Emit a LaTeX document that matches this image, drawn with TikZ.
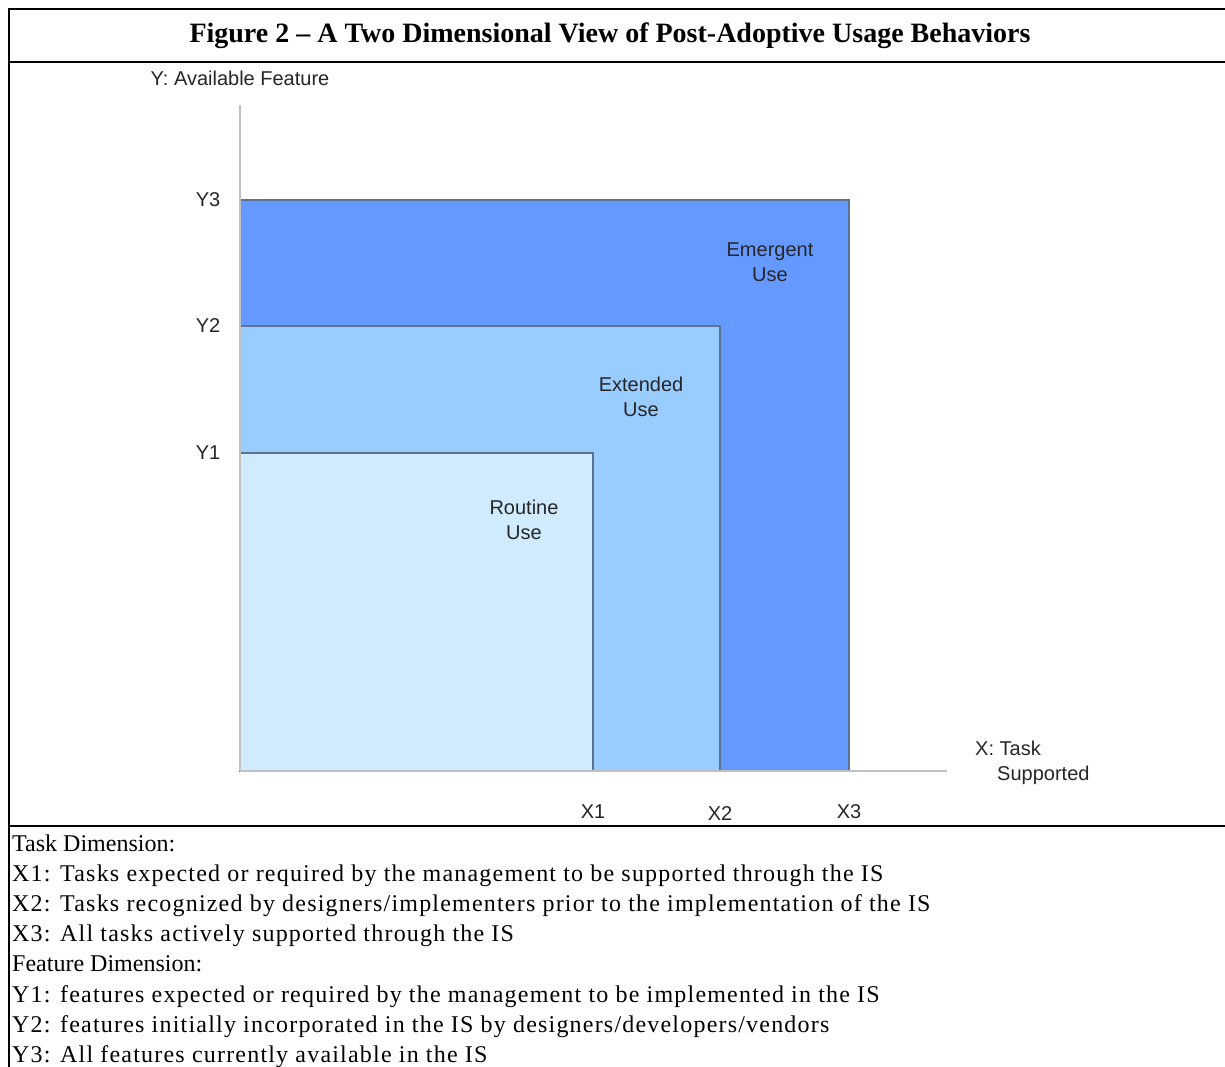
\documentclass[tikz,border=0pt]{standalone}
\usepackage{fontspec}
\setmainfont{Liberation Serif}
\newfontfamily\arialfont{Liberation Sans}
\newfontfamily\itemfont[LetterSpace=5]{Liberation Serif}
\usetikzlibrary{positioning}

\definecolor{emergentblue}{HTML}{6699FF}
\definecolor{extendedblue}{HTML}{99CCFF}
\definecolor{routineblue}{HTML}{CFEBFD}
\definecolor{edgegrey}{HTML}{5A7390}
\definecolor{axisgrey}{HTML}{C0C0C0}

\tikzset{
  frameline/.style={line width=2.6pt},
  usebox/.style={draw=edgegrey, line width=1.1pt},
  axisline/.style={draw=axisgrey, line width=1.4pt},
  sflabel/.style={font=\arialfont\fontsize{20}{25}\selectfont, text=black!85, align=center, inner sep=0pt},
  notetext/.style={font=\fontsize{24}{28}\selectfont, anchor=base west, inner sep=0pt},
  itemtext/.style={notetext, font=\itemfont\fontsize{24}{28}\selectfont}
}

\begin{document}
\begin{tikzpicture}[x=1pt,y=-1pt]
  \useasboundingbox (0,0) rectangle (1225,1067);
  \fill[white] (0,0) rectangle (1225,1067);

  % frame and title
  \draw[frameline] (1225,9) -- (9,9) -- (9,1067);
  \draw[frameline] (9,62) -- (1225,62);
  \draw[frameline] (9,826) -- (1225,826);
  \node[font=\bfseries\fontsize{28}{32}\selectfont] (title) at (610,36)
    {Figure 2 -- A Two Dimensional View of Post-Adoptive Usage Behaviors};

  % nested usage areas
  \draw[usebox, fill=emergentblue] (240,200) rectangle (849,771);
  \draw[usebox, fill=extendedblue] (240,326) rectangle (720,771);
  \draw[usebox, fill=routineblue] (240,453) rectangle (593,771);

  % axes
  \coordinate (origin) at (240,771);
  \coordinate (ytop) at (240,105);
  \coordinate (xend) at (947,771);
  \draw[axisline] (origin) -- (ytop);
  \draw[axisline] (origin) -- (xend);

  \node[sflabel] (yaxis) at (240,78) {Y: Available Feature};
  \node[sflabel, align=left, anchor=north west] (xaxis) at (975,741)
    {X: Task\\\hspace*{22pt}Supported};

  \node[sflabel] (y3) at (208,200) {Y3};
  \node[sflabel] (y2) at (208,326) {Y2};
  \node[sflabel] (y1) at (208,453) {Y1};
  \node[sflabel] (x1) at (593,812) {X1};
  \node[sflabel] (x2) at (720,814) {X2};
  \node[sflabel] (x3) at (849,812) {X3};

  \node[sflabel] (emergent) at (770,262) {Emergent\\Use};
  \node[sflabel] (extended) at (641,397) {Extended\\Use};
  \node[sflabel] (routine) at (524,520) {Routine\\Use};

  % legend of the dimensions
  \node[notetext] (taskdim) at (12,851) {Task Dimension:};
  \node[itemtext] (xone) at (12,881.2) {X1: Tasks expected or required by the management to be supported through the IS};
  \node[itemtext] (xtwo) at (12,911.4) {X2: Tasks recognized by designers/implementers prior to the implementation of the IS};
  \node[itemtext] (xthree) at (12,941.6) {X3: All tasks actively supported through the IS};
  \node[notetext] (featdim) at (12,971.8) {Feature Dimension:};
  \node[itemtext] (yone) at (12,1002) {Y1: features expected or required by the management to be implemented in the IS};
  \node[itemtext] (ytwo) at (12,1032.2) {Y2: features initially incorporated in the IS by designers/developers/vendors};
  \node[itemtext] (ythree) at (12,1062.4) {Y3: All features currently available in the IS};
\end{tikzpicture}
\end{document}
